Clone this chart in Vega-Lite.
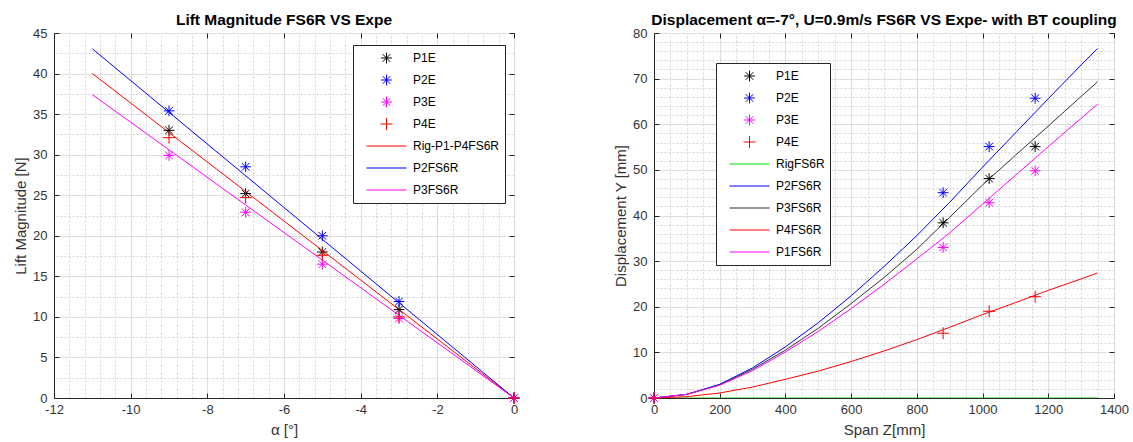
{
  "$schema": "https://vega.github.io/schema/vega-lite/v6.json",
  "padding": {"left": 13, "top": 12, "right": 5, "bottom": 5},
  "background": "white",
  "datasets": {
    "left_lines": [
      {"series": "Rig-P1-P4FS6R", "alpha": -11, "lift": 40.0},
      {"series": "Rig-P1-P4FS6R", "alpha": 0, "lift": 0},
      {"series": "P2FS6R", "alpha": -11, "lift": 43.05},
      {"series": "P2FS6R", "alpha": 0, "lift": 0},
      {"series": "P3FS6R", "alpha": -11, "lift": 37.4},
      {"series": "P3FS6R", "alpha": 0, "lift": 0}
    ],
    "left_points": [
      {"series": "P1E", "alpha": -9, "lift": 33.0},
      {"series": "P1E", "alpha": -7, "lift": 25.2},
      {"series": "P1E", "alpha": -5, "lift": 18.0},
      {"series": "P1E", "alpha": -3, "lift": 10.9},
      {"series": "P1E", "alpha": 0, "lift": 0},
      {"series": "P2E", "alpha": -9, "lift": 35.4},
      {"series": "P2E", "alpha": -7, "lift": 28.5},
      {"series": "P2E", "alpha": -5, "lift": 20.0},
      {"series": "P2E", "alpha": -3, "lift": 11.9},
      {"series": "P2E", "alpha": 0, "lift": 0},
      {"series": "P3E", "alpha": -9, "lift": 29.9},
      {"series": "P3E", "alpha": -7, "lift": 22.9},
      {"series": "P3E", "alpha": -5, "lift": 16.5},
      {"series": "P3E", "alpha": -3, "lift": 9.8},
      {"series": "P3E", "alpha": 0, "lift": 0},
      {"series": "P4E", "alpha": -9, "lift": 32.1},
      {"series": "P4E", "alpha": -7, "lift": 24.7},
      {"series": "P4E", "alpha": -5, "lift": 17.6},
      {"series": "P4E", "alpha": -3, "lift": 10.0},
      {"series": "P4E", "alpha": 0, "lift": 0}
    ],
    "right_lines": [
      {"series": "RigFS6R", "z": 0, "y": 0},
      {"series": "RigFS6R", "z": 1350, "y": 0},
      {"series": "P2FS6R", "z": 0, "y": 0},
      {"series": "P2FS6R", "z": 100, "y": 0.8},
      {"series": "P2FS6R", "z": 200, "y": 3.0},
      {"series": "P2FS6R", "z": 300, "y": 6.6},
      {"series": "P2FS6R", "z": 400, "y": 11.2},
      {"series": "P2FS6R", "z": 500, "y": 16.5},
      {"series": "P2FS6R", "z": 600, "y": 22.4},
      {"series": "P2FS6R", "z": 700, "y": 28.8},
      {"series": "P2FS6R", "z": 800, "y": 35.6},
      {"series": "P2FS6R", "z": 900, "y": 42.9},
      {"series": "P2FS6R", "z": 1000, "y": 50.6},
      {"series": "P2FS6R", "z": 1100, "y": 58.1},
      {"series": "P2FS6R", "z": 1200, "y": 65.6},
      {"series": "P2FS6R", "z": 1300, "y": 73.0},
      {"series": "P2FS6R", "z": 1350, "y": 76.6},
      {"series": "P3FS6R", "z": 0, "y": 0},
      {"series": "P3FS6R", "z": 100, "y": 0.8},
      {"series": "P3FS6R", "z": 200, "y": 2.9},
      {"series": "P3FS6R", "z": 300, "y": 6.3},
      {"series": "P3FS6R", "z": 400, "y": 10.5},
      {"series": "P3FS6R", "z": 500, "y": 15.3},
      {"series": "P3FS6R", "z": 600, "y": 20.7},
      {"series": "P3FS6R", "z": 700, "y": 26.4},
      {"series": "P3FS6R", "z": 800, "y": 32.6},
      {"series": "P3FS6R", "z": 900, "y": 39.6},
      {"series": "P3FS6R", "z": 1000, "y": 46.7},
      {"series": "P3FS6R", "z": 1100, "y": 53.2},
      {"series": "P3FS6R", "z": 1200, "y": 59.6},
      {"series": "P3FS6R", "z": 1300, "y": 66.1},
      {"series": "P3FS6R", "z": 1350, "y": 69.3},
      {"series": "P4FS6R", "z": 0, "y": 0},
      {"series": "P4FS6R", "z": 100, "y": 0.3},
      {"series": "P4FS6R", "z": 200, "y": 1.1},
      {"series": "P4FS6R", "z": 300, "y": 2.4},
      {"series": "P4FS6R", "z": 400, "y": 4.1},
      {"series": "P4FS6R", "z": 500, "y": 5.9},
      {"series": "P4FS6R", "z": 600, "y": 8.0},
      {"series": "P4FS6R", "z": 700, "y": 10.3},
      {"series": "P4FS6R", "z": 800, "y": 12.8},
      {"series": "P4FS6R", "z": 900, "y": 15.5},
      {"series": "P4FS6R", "z": 1000, "y": 18.3},
      {"series": "P4FS6R", "z": 1100, "y": 20.9},
      {"series": "P4FS6R", "z": 1200, "y": 23.6},
      {"series": "P4FS6R", "z": 1300, "y": 26.1},
      {"series": "P4FS6R", "z": 1350, "y": 27.4},
      {"series": "P1FS6R", "z": 0, "y": 0},
      {"series": "P1FS6R", "z": 100, "y": 0.8},
      {"series": "P1FS6R", "z": 200, "y": 2.8},
      {"series": "P1FS6R", "z": 300, "y": 6.0},
      {"series": "P1FS6R", "z": 400, "y": 10.1},
      {"series": "P1FS6R", "z": 500, "y": 14.6},
      {"series": "P1FS6R", "z": 600, "y": 19.6},
      {"series": "P1FS6R", "z": 700, "y": 24.9},
      {"series": "P1FS6R", "z": 800, "y": 30.5},
      {"series": "P1FS6R", "z": 900, "y": 36.2},
      {"series": "P1FS6R", "z": 1000, "y": 42.5},
      {"series": "P1FS6R", "z": 1100, "y": 48.8},
      {"series": "P1FS6R", "z": 1200, "y": 55.1},
      {"series": "P1FS6R", "z": 1300, "y": 61.3},
      {"series": "P1FS6R", "z": 1350, "y": 64.4}
    ],
    "right_points": [
      {"series": "P1E", "z": 0, "y": 0},
      {"series": "P1E", "z": 880, "y": 38.4},
      {"series": "P1E", "z": 1020, "y": 48.1},
      {"series": "P1E", "z": 1160, "y": 55.1},
      {"series": "P2E", "z": 0, "y": 0},
      {"series": "P2E", "z": 880, "y": 45.0},
      {"series": "P2E", "z": 1020, "y": 55.1},
      {"series": "P2E", "z": 1160, "y": 65.7},
      {"series": "P3E", "z": 0, "y": 0},
      {"series": "P3E", "z": 880, "y": 33.0},
      {"series": "P3E", "z": 1020, "y": 42.8},
      {"series": "P3E", "z": 1160, "y": 49.8},
      {"series": "P4E", "z": 0, "y": 0},
      {"series": "P4E", "z": 880, "y": 14.2},
      {"series": "P4E", "z": 1020, "y": 19.0},
      {"series": "P4E", "z": 1160, "y": 22.2}
    ]
  },
  "spacing": 140,
  "bounds": "flush",
  "hconcat": [
    {
      "width": 460,
      "height": 365,
      "title": {"text": "Lift Magnitude FS6R VS Expe"},
      "layer": [
        {
          "data": {"name": "left_lines"},
          "mark": {"type": "line", "strokeWidth": 1, "clip": true},
          "encoding": {
            "x": {"field": "alpha", "type": "quantitative",
              "scale": {"domain": [-12, 0], "nice": false, "zero": false},
              "axis": {"orient": "bottom", "title": "α [°]", "values": [-12, -10, -8, -6, -4, -2, 0], "grid": true}},
            "y": {"field": "lift", "type": "quantitative",
              "scale": {"domain": [0, 45], "nice": false},
              "axis": {"orient": "left", "title": "Lift Magnitude [N]", "values": [0, 5, 10, 15, 20, 25, 30, 35, 40, 45], "grid": true}},
            "color": {"field": "series", "type": "nominal",
              "scale": {"domain": ["P1E", "P2E", "P3E", "P4E", "Rig-P1-P4FS6R", "P2FS6R", "P3FS6R"],
                        "range": ["#000000", "#0000ff", "#ff00ff", "#ff0000", "#ff0000", "#0000ff", "#ff00ff"]},
              "legend": {"orient": "none", "legendX": 299, "legendY": 12, "title": null}}
          }
        },
        {
          "data": {"name": "left_points"},
          "mark": {"type": "point", "filled": false, "size": 1600, "strokeWidth": 1, "opacity": 1},
          "encoding": {
            "x": {"field": "alpha", "type": "quantitative",
              "scale": {"domain": [-12, 0], "nice": false, "zero": false},
              "axis": {"orient": "top", "title": null, "labels": false, "ticks": false, "domain": false, "grid": true, "gridDash": [2, 2], "gridColor": "#d4d4d4",
                "values": [-11.6, -11.2, -10.8, -10.4, -9.6, -9.2, -8.8, -8.4, -7.6, -7.2, -6.8, -6.4, -5.6, -5.2, -4.8, -4.4, -3.6, -3.2, -2.8, -2.4, -1.6, -1.2, -0.8, -0.4]}},
            "y": {"field": "lift", "type": "quantitative",
              "scale": {"domain": [0, 45], "nice": false},
              "axis": {"orient": "right", "title": null, "labels": false, "ticks": false, "domain": false, "grid": true, "gridDash": [2, 2], "gridColor": "#d4d4d4",
                "values": [2.5, 7.5, 12.5, 17.5, 22.5, 27.5, 32.5, 37.5, 42.5]}},
            "color": {"field": "series", "type": "nominal",
              "scale": {"domain": ["P1E", "P2E", "P3E", "P4E", "Rig-P1-P4FS6R", "P2FS6R", "P3FS6R"],
                        "range": ["#000000", "#0000ff", "#ff00ff", "#ff0000", "#ff0000", "#0000ff", "#ff00ff"]},
              "legend": {"orient": "none", "legendX": 299, "legendY": 12, "title": null}},
            "shape": {"field": "series", "type": "nominal",
              "scale": {"domain": ["P1E", "P2E", "P3E", "P4E", "Rig-P1-P4FS6R", "P2FS6R", "P3FS6R"],
                        "range": ["M0,-0.27L0,0.27M-0.27,0L0.27,0M-0.19,-0.19L0.19,0.19M-0.19,0.19L0.19,-0.19",
                                  "M0,-0.27L0,0.27M-0.27,0L0.27,0M-0.19,-0.19L0.19,0.19M-0.19,0.19L0.19,-0.19",
                                  "M0,-0.27L0,0.27M-0.27,0L0.27,0M-0.19,-0.19L0.19,0.19M-0.19,0.19L0.19,-0.19",
                                  "M0,-0.3L0,0.3M-0.3,0L0.3,0",
                                  "stroke", "stroke", "stroke"]},
              "legend": {"orient": "none", "legendX": 299, "legendY": 12, "title": null}}
          }
        },
        {
          "data": {"name": "left_lines"},
          "mark": {"type": "point", "opacity": 0},
          "encoding": {
            "x": {"field": "alpha", "type": "quantitative",
              "scale": {"domain": [-12, 0], "nice": false, "zero": false},
              "axis": {"orient": "top", "title": null, "labels": false, "domain": false, "grid": false, "values": [-12, -10, -8, -6, -4, -2, 0]}},
            "y": {"field": "lift", "type": "quantitative",
              "scale": {"domain": [0, 45], "nice": false},
              "axis": {"orient": "right", "title": null, "labels": false, "domain": false, "grid": false, "values": [0, 5, 10, 15, 20, 25, 30, 35, 40, 45]}}
          }
        }
      ],
      "resolve": {"scale": {"x": "independent", "y": "independent"}}
    },
    {
      "width": 460,
      "height": 365,
      "title": {"text": "Displacement α=-7°, U=0.9m/s  FS6R VS Expe- with BT coupling"},
      "layer": [
        {
          "data": {"name": "right_lines"},
          "mark": {"type": "line", "strokeWidth": 1, "clip": true},
          "encoding": {
            "x": {"field": "z", "type": "quantitative",
              "scale": {"domain": [0, 1400], "nice": false},
              "axis": {"orient": "bottom", "title": "Span Z[mm]", "values": [0, 200, 400, 600, 800, 1000, 1200, 1400], "grid": true}},
            "y": {"field": "y", "type": "quantitative",
              "scale": {"domain": [0, 80], "nice": false},
              "axis": {"orient": "left", "title": "Displacement Y [mm]", "values": [0, 10, 20, 30, 40, 50, 60, 70, 80], "grid": true}},
            "color": {"field": "series", "type": "nominal",
              "scale": {"domain": ["P1E", "P2E", "P3E", "P4E", "RigFS6R", "P2FS6R", "P3FS6R", "P4FS6R", "P1FS6R"],
                        "range": ["#000000", "#0000ff", "#ff00ff", "#ff0000", "#00dd00", "#0000ff", "#333333", "#ff0000", "#ff00ff"]},
              "legend": {"orient": "none", "legendX": 62, "legendY": 30, "title": null}}
          }
        },
        {
          "data": {"name": "right_points"},
          "mark": {"type": "point", "filled": false, "size": 1600, "strokeWidth": 1, "opacity": 1},
          "encoding": {
            "x": {"field": "z", "type": "quantitative",
              "scale": {"domain": [0, 1400], "nice": false},
              "axis": {"orient": "top", "title": null, "labels": false, "ticks": false, "domain": false, "grid": true, "gridDash": [2, 2], "gridColor": "#d4d4d4",
                "values": [50, 100, 150, 250, 300, 350, 450, 500, 550, 650, 700, 750, 850, 900, 950, 1050, 1100, 1150, 1250, 1300, 1350]}},
            "y": {"field": "y", "type": "quantitative",
              "scale": {"domain": [0, 80], "nice": false},
              "axis": {"orient": "right", "title": null, "labels": false, "ticks": false, "domain": false, "grid": true, "gridDash": [2, 2], "gridColor": "#d4d4d4",
                "values": [2, 4, 6, 8, 12, 14, 16, 18, 22, 24, 26, 28, 32, 34, 36, 38, 42, 44, 46, 48, 52, 54, 56, 58, 62, 64, 66, 68, 72, 74, 76, 78]}},
            "color": {"field": "series", "type": "nominal",
              "scale": {"domain": ["P1E", "P2E", "P3E", "P4E", "RigFS6R", "P2FS6R", "P3FS6R", "P4FS6R", "P1FS6R"],
                        "range": ["#000000", "#0000ff", "#ff00ff", "#ff0000", "#00dd00", "#0000ff", "#333333", "#ff0000", "#ff00ff"]},
              "legend": {"orient": "none", "legendX": 62, "legendY": 30, "title": null}},
            "shape": {"field": "series", "type": "nominal",
              "scale": {"domain": ["P1E", "P2E", "P3E", "P4E", "RigFS6R", "P2FS6R", "P3FS6R", "P4FS6R", "P1FS6R"],
                        "range": ["M0,-0.27L0,0.27M-0.27,0L0.27,0M-0.19,-0.19L0.19,0.19M-0.19,0.19L0.19,-0.19",
                                  "M0,-0.27L0,0.27M-0.27,0L0.27,0M-0.19,-0.19L0.19,0.19M-0.19,0.19L0.19,-0.19",
                                  "M0,-0.27L0,0.27M-0.27,0L0.27,0M-0.19,-0.19L0.19,0.19M-0.19,0.19L0.19,-0.19",
                                  "M0,-0.3L0,0.3M-0.3,0L0.3,0",
                                  "stroke", "stroke", "stroke", "stroke", "stroke"]},
              "legend": {"orient": "none", "legendX": 62, "legendY": 30, "title": null}}
          }
        },
        {
          "data": {"name": "right_lines"},
          "mark": {"type": "point", "opacity": 0},
          "encoding": {
            "x": {"field": "z", "type": "quantitative",
              "scale": {"domain": [0, 1400], "nice": false},
              "axis": {"orient": "top", "title": null, "labels": false, "domain": false, "grid": false, "values": [0, 200, 400, 600, 800, 1000, 1200, 1400]}},
            "y": {"field": "y", "type": "quantitative",
              "scale": {"domain": [0, 80], "nice": false},
              "axis": {"orient": "right", "title": null, "labels": false, "domain": false, "grid": false, "values": [0, 10, 20, 30, 40, 50, 60, 70, 80]}}
          }
        }
      ],
      "resolve": {"scale": {"x": "independent", "y": "independent"}}
    }
  ],
  "resolve": {"scale": {"x": "independent", "y": "independent", "color": "independent", "shape": "independent"}},
  "config": {
    "font": "Liberation Sans",
    "view": {"stroke": "#262626", "strokeWidth": 1},
    "title": {"font": "Liberation Sans", "fontSize": 15.5, "fontWeight": "bold", "color": "#000000", "anchor": "middle", "offset": -1},
    "axis": {
      "labelFont": "Liberation Sans", "labelFontSize": 13, "labelColor": "#333333", "labelExpr": "'' + datum.value",
      "titleFont": "Liberation Sans", "titleFontSize": 15, "titleFontWeight": "normal", "titleColor": "#333333",
      "domainColor": "#262626", "tickColor": "#262626", "tickSize": -5, "labelPadding": 10,
      "gridColor": "#dedede", "gridWidth": 1, "titlePadding": 4, "labelFlush": false, "labelOverlap": false
    },
    "axisX": {"titlePadding": 6, "labelPadding": 10},
    "axisY": {"titlePadding": 4, "labelPadding": 12},
    "legend": {
      "labelFont": "Liberation Sans", "labelFontSize": 12, "labelColor": "#000000",
      "strokeColor": "#262626", "fillColor": "#ffffff", "padding": 5,
      "symbolSize": 1600, "symbolStrokeWidth": 1, "clipHeight": 16, "rowPadding": 6,
      "symbolOffset": 8, "labelOffset": 6, "symbolType": "stroke"
    }
  }
}
